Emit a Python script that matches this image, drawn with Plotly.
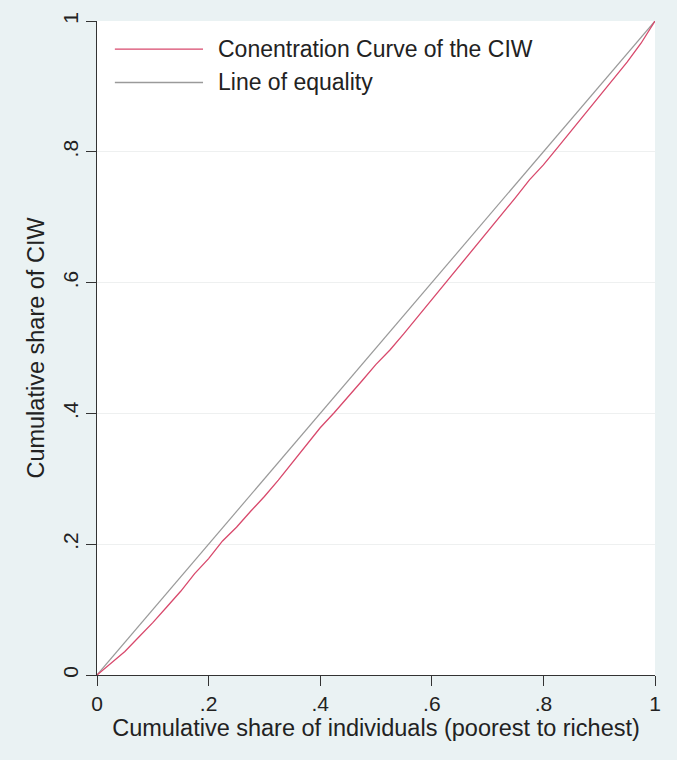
import plotly.graph_objects as go

# Data
pop_share = [0, 0.025, 0.05, 0.075, 0.1, 0.125, 0.15, 0.175, 0.2, 0.225, 0.25, 0.275,
             0.3, 0.325, 0.35, 0.375, 0.4, 0.425, 0.45, 0.475, 0.5, 0.525, 0.55, 0.575,
             0.6, 0.625, 0.65, 0.675, 0.7, 0.725, 0.75, 0.775, 0.8, 0.825, 0.85, 0.875,
             0.9, 0.925, 0.95, 0.975, 1.0]
ciw_share = [0, 0.018, 0.036, 0.058, 0.08, 0.104, 0.128, 0.155, 0.178, 0.205, 0.226, 0.25,
             0.273, 0.298, 0.325, 0.352, 0.378, 0.401, 0.425, 0.45, 0.475, 0.497, 0.522, 0.548,
             0.574, 0.6, 0.625, 0.652, 0.678, 0.703, 0.73, 0.757, 0.78, 0.806, 0.832, 0.858,
             0.884, 0.91, 0.937, 0.966, 1.0]
equality = [0, 1]

tick_vals = [0, 0.2, 0.4, 0.6, 0.8, 1]
tick_text = ["0", ".2", ".4", ".6", ".8", "1"]

legend_names = ["Conentration Curve of the CIW", "Line of equality"]
red = "#d8496c"
grey = "#9a9a9a"
font = "Liberation Sans, Arial, Helvetica, sans-serif"

fig = go.Figure()
fig.add_trace(go.Scatter(x=equality, y=equality, mode="lines",
                         line=dict(color=grey, width=1.2), name=legend_names[1], showlegend=False))
fig.add_trace(go.Scatter(x=pop_share, y=ciw_share, mode="lines",
                         line=dict(color=red, width=1.3), name=legend_names[0], showlegend=False))

# manual legend
rows = [(0.957, red, legend_names[0]), (0.906, grey, legend_names[1])]
for yy, col, txt in rows:
    fig.add_shape(type="line", xref="paper", yref="paper", x0=0.032, x1=0.19, y0=yy, y1=yy,
                  line=dict(color=col, width=1.3))
    fig.add_annotation(xref="paper", yref="paper", x=0.213, y=yy, text=txt, showarrow=False,
                       xanchor="left", yanchor="middle", font=dict(size=23, color="#222", family=font))

fig.update_layout(
    width=677, height=760,
    margin=dict(l=97, r=22, t=17, b=85),
    paper_bgcolor="#eaf2f3",
    plot_bgcolor="white",
    font=dict(family=font, size=22, color="#222"),
    xaxis=dict(range=[0, 1], tickvals=tick_vals, ticktext=tick_text, showgrid=False,
               showline=True, linecolor="#333", linewidth=1.2, ticks="outside", ticklen=10,
               tickcolor="#333", zeroline=False, tickfont=dict(size=21),
               title=dict(text="Cumulative share of individuals (poorest to richest)",
                          font=dict(size=23.5), standoff=5)),
    yaxis=dict(range=[0, 1], tickvals=tick_vals, ticktext=tick_text, showgrid=True,
               gridcolor="#eef0f0", gridwidth=1,
               showline=True, linecolor="#333", linewidth=1.2, ticks="outside", ticklen=10,
               tickcolor="#333", zeroline=False, tickangle=-90, tickfont=dict(size=21),
               title=dict(text="Cumulative share of CIW", font=dict(size=23.5), standoff=7)),
)
fig.write_html("out.html", post_script="document.body.style.margin='0';",
               config={"displayModeBar": False})
